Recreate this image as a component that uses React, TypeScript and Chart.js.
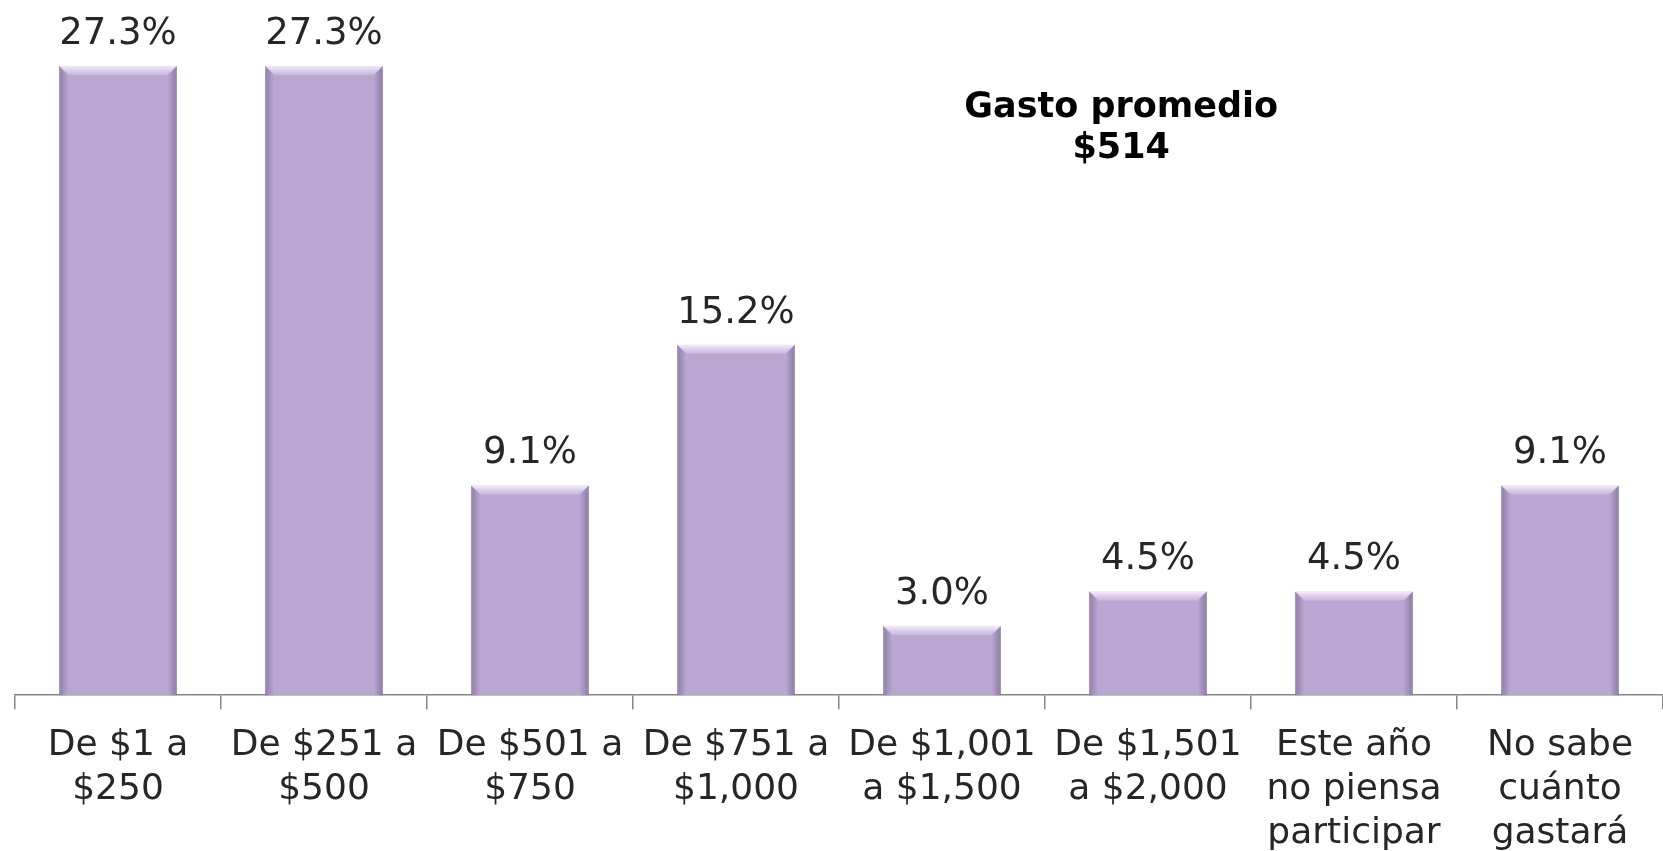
import React, { useEffect, useRef } from "react";
import { Chart, registerables } from "chart.js";

Chart.register(...registerables);

const categories: string[][] = [
  ["De $1 a", "$250"],
  ["De $251 a", "$500"],
  ["De $501 a", "$750"],
  ["De $751 a", "$1,000"],
  ["De $1,001", "a $1,500"],
  ["De $1,501", "a $2,000"],
  ["Este año", "no piensa", "participar"],
  ["No sabe", "cuánto", "gastará"],
];
const values: number[] = [27.3, 27.3, 9.1, 15.2, 3.0, 4.5, 4.5, 9.1];
const titleLines: string[] = ["Gasto promedio", "$514"];

const FONT = "'DejaVu Sans', Verdana, sans-serif";

const bevelPlugin = {
  id: "bevel",
  afterDatasetsDraw(chart: any) {
    const ctx = chart.ctx;
    const meta = chart.getDatasetMeta(0);
    meta.data.forEach((bar: any) => {
      const { x, y, base, width } = bar.getProps(["x", "y", "base", "width"], true);
      const l = x - width / 2;
      const r = x + width / 2;
      const h = base - y;
      const b = Math.min(9, h / 3);
      ctx.save();
      let g = ctx.createLinearGradient(l, 0, l + b, 0);
      g.addColorStop(0, "rgba(110,90,135,0.55)");
      g.addColorStop(1, "rgba(110,90,135,0)");
      ctx.fillStyle = g;
      ctx.beginPath();
      ctx.moveTo(l, y);
      ctx.lineTo(l + b, y + b);
      ctx.lineTo(l + b, base);
      ctx.lineTo(l, base);
      ctx.closePath();
      ctx.fill();
      g = ctx.createLinearGradient(r, 0, r - b, 0);
      g.addColorStop(0, "rgba(110,90,135,0.6)");
      g.addColorStop(1, "rgba(110,90,135,0)");
      ctx.fillStyle = g;
      ctx.beginPath();
      ctx.moveTo(r, y);
      ctx.lineTo(r - b, y + b);
      ctx.lineTo(r - b, base);
      ctx.lineTo(r, base);
      ctx.closePath();
      ctx.fill();
      g = ctx.createLinearGradient(0, y, 0, y + b);
      g.addColorStop(0, "rgba(250,240,255,0.95)");
      g.addColorStop(1, "rgba(235,222,245,0.3)");
      ctx.fillStyle = g;
      ctx.beginPath();
      ctx.moveTo(l, y);
      ctx.lineTo(r, y);
      ctx.lineTo(r - b, y + b);
      ctx.lineTo(l + b, y + b);
      ctx.closePath();
      ctx.fill();
      ctx.restore();
    });
  },
};

const labelPlugin = {
  id: "valueLabels",
  afterDatasetsDraw(chart: any) {
    const ctx = chart.ctx;
    const meta = chart.getDatasetMeta(0);
    ctx.save();
    ctx.font = `37px ${FONT}`;
    ctx.fillStyle = "#262626";
    ctx.textAlign = "center";
    ctx.textBaseline = "alphabetic";
    meta.data.forEach((bar: any, i: number) => {
      ctx.fillText(values[i].toFixed(1) + "%", bar.x, bar.y - 22);
    });
    const xs = chart.scales.x;
    const cx = xs.getPixelForValue(4.87);
    const ys = chart.scales.y;
    ctx.font = `bold 35px ${FONT}`;
    ctx.fillStyle = "#000";
    ctx.fillText(titleLines[0], cx, ys.getPixelForValue(25.1));
    ctx.fillText(titleLines[1], cx, ys.getPixelForValue(23.3));
    ctx.restore();
  },
};

export default function App() {
  const ref = useRef<HTMLCanvasElement | null>(null);
  useEffect(() => {
    document.body.style.margin = "0";
    const chart = new Chart(ref.current as HTMLCanvasElement, {
      type: "bar",
      data: {
        labels: categories,
        datasets: [
          {
            data: values,
            backgroundColor: "#B9A7D2",
            borderColor: "#8E7BA8",
            borderWidth: 1,
            categoryPercentage: 1,
            barPercentage: 0.57,
          },
        ],
      },
      options: {
        animation: false,
        responsive: false,
        maintainAspectRatio: false,
        layout: { padding: { left: 15, right: 0, top: 0, bottom: -19 } },
        plugins: { legend: { display: false }, tooltip: { enabled: false }, title: { display: false } },
        scales: {
          y: { display: false, min: 0, max: 30.16 },
          x: {
            offset: true,
            border: { display: true, color: "#868686", width: 1.5 },
            grid: {
              offset: true,
              drawOnChartArea: false,
              drawTicks: true,
              tickLength: 14,
              color: "#868686",
              lineWidth: 1.5,
            },
            ticks: {
              color: "#262626",
              font: { family: FONT, size: 36, lineHeight: 1.23 },
              padding: 14,
              maxRotation: 0,
              autoSkip: false,
            },
          },
        },
      },
      plugins: [bevelPlugin, labelPlugin],
    });
    return () => chart.destroy();
  }, []);
  return (
    <div style={{ position: "fixed", left: 0, top: 0, width: 1663, height: 851, background: "#fff" }}>
      <canvas ref={ref} width={1663} height={851} style={{ width: 1663, height: 851 }} />
    </div>
  );
}
